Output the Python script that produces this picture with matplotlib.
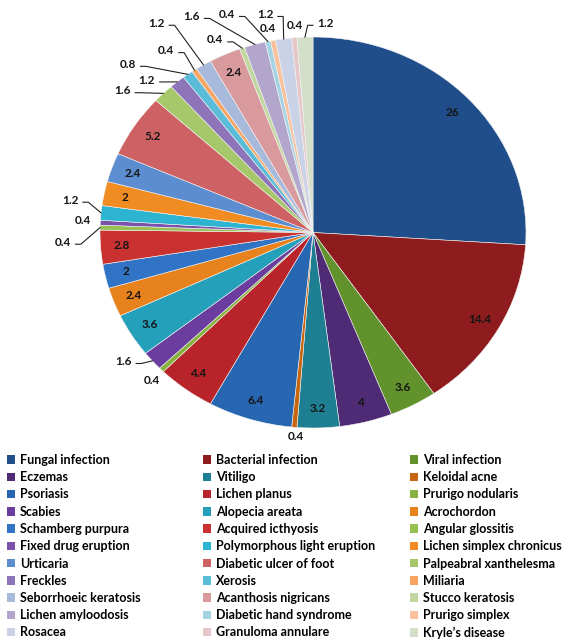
import numpy as np
import matplotlib.pyplot as plt
from matplotlib.patches import Patch

plt.rcParams['font.family'] = ['Lato', 'DejaVu Sans']

diseases = ['Fungal infection', 'Bacterial infection', 'Viral infection',
            'Eczemas', 'Vitiligo', 'Keloidal acne',
            'Psoriasis', 'Lichen planus', 'Prurigo nodularis',
            'Scabies', 'Alopecia areata', 'Acrochordon',
            'Schamberg purpura', 'Acquired icthyosis', 'Angular glossitis',
            'Fixed drug eruption', 'Polymorphous light eruption', 'Lichen simplex chronicus',
            'Urticaria', 'Diabetic ulcer of foot', 'Palpeabral xanthelesma',
            'Freckles', 'Xerosis', 'Miliaria',
            'Seborrhoeic keratosis', 'Acanthosis nigricans', 'Stucco keratosis',
            'Lichen amyloodosis', 'Diabetic hand syndrome', 'Prurigo simplex',
            'Rosacea', 'Granuloma annulare', 'Kryle\u2019s disease']

percent = [26, 14.4, 3.6,
           4, 3.2, 0.4,
           6.4, 4.4, 0.4,
           1.6, 3.6, 2.4,
           2, 2.8, 0.4,
           0.4, 1.2, 2,
           2.4, 5.2, 1.6,
           1.2, 0.8, 0.4,
           1.2, 2.4, 0.4,
           1.6, 0.4, 0.4,
           1.2, 0.4, 1.2]

colors = ['#1f4e8a', '#8e1c1f', '#62922c',
          '#4e2b74', '#1f7f92', '#c8650f',
          '#2766b0', '#b8242a', '#86b23d',
          '#6a3d9f', '#25a0ba', '#e8821c',
          '#3174c5', '#c93231', '#96c152',
          '#7a52aa', '#2db4d0', '#f08c22',
          '#5c8dd0', '#cd6163', '#a6c86a',
          '#8e74b8', '#5abcd8', '#f8a462',
          '#a8badb', '#d89a9d', '#c2d6a0',
          '#b3a6cc', '#a6d3e3', '#f9c29e',
          '#c9d2e6', '#e5c7ca', '#d3dfc8']

# labels of thin slices sit outside the pie: (x, y, leader line?)
outside = {
    5: (-0.08, -1.045, False),
    8: (-0.756, -0.755, False),
    9: (-0.89, -0.66, True),
    14: (-1.175, -0.05, True),
    15: (-1.08, 0.06, False),
    16: (-1.14, 0.165, True),
    20: (-0.895, 0.725, True),
    21: (-0.78, 0.78, True),
    22: (-0.87, 0.86, True),
    23: (-0.69, 0.93, True),
    24: (-0.735, 1.07, True),
    26: (-0.46, 0.985, True),
    27: (-0.57, 1.105, True),
    28: (-0.405, 1.115, True),
    29: (-0.21, 1.045, False),
    30: (-0.225, 1.115, True),
    31: (-0.085, 1.06, False),
    32: (0.06, 1.07, True),
}

fig = plt.figure(figsize=(5.63, 6.43), dpi=100)
ax = fig.add_axes([100 / 563, 1 - 428 / 643, 426 / 563, 391 / 643])

wedges, _ = ax.pie(percent, colors=colors, startangle=90, counterclock=False,
                   wedgeprops=dict(linewidth=0.4, edgecolor='#f4f4f4'))
ax.set_aspect('auto')
ax.set_xlim(-1, 1)
ax.set_ylim(-1, 1)

lbl = dict(fontsize=8.5, fontweight='bold', color='#151515',
           ha='center', va='center')

for i, w in enumerate(wedges):
    mid = np.deg2rad((w.theta1 + w.theta2) / 2)
    ex, ey = np.cos(mid), np.sin(mid)
    txt = f'{percent[i]:g}'
    if i in outside:
        lx, ly, line = outside[i]
        ax.text(lx, ly, txt, **lbl)
        if line:
            side = 1 if ex > lx else -1
            sx = lx + side * 0.06
            ax.plot([sx, sx + side * 0.025, ex], [ly - 0.01, ly - 0.01, ey],
                    color='#222222', lw=0.8, clip_on=False)
    else:
        ax.text(0.9 * ex, 0.9 * ey, txt, **lbl)

# legend laid out row by row in three columns
handles = [Patch(facecolor=c, edgecolor='none') for c in colors]
col_x = [7, 203, 410]
for k in range(3):
    fig.legend(handles=handles[k::3], labels=diseases[k::3],
               loc='upper left', bbox_to_anchor=(col_x[k] / 563, 1 - 454 / 643),
               frameon=False, prop=dict(size=9, weight='bold'),
               handlelength=0.65, handleheight=0.65, handletextpad=0.4,
               labelspacing=0.42, borderpad=0, borderaxespad=0)

fig.savefig('out.png', dpi=100)
